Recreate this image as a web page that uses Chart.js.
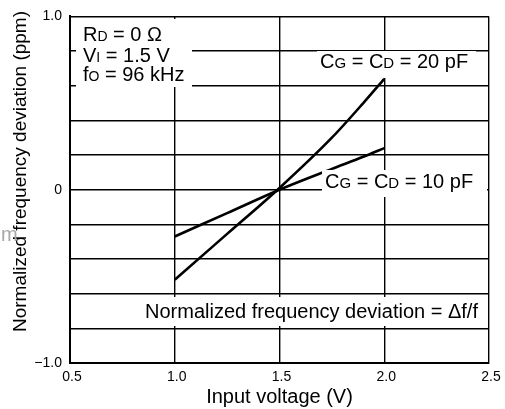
<!DOCTYPE html>
<html>
<head>
<meta charset="utf-8">
<script src="https://cdn.jsdelivr.net/npm/chart.js@4/dist/chart.umd.min.js"></script>
<style>
  html, body { margin: 0; padding: 0; background: #fff; }
  #wrap { width: 505px; height: 409px; }
</style>
</head>
<body>
<div id="wrap"><canvas id="chart" width="505" height="409"></canvas></div>
<script>
// values
const voltages = [1.0, 1.25, 1.5, 1.75, 1.9, 2.0]
const dev_20pf = [-0.52, -0.255, 0.01, 0.30, 0.50, 0.64]
const dev_10pf = [-0.27, -0.135, 0.0, 0.12, 0.19, 0.24]
const x_ticks = [0.5, 1.0, 1.5, 2.0, 2.5]
const y_labelled = [1.0, 0, -1.0]

const FONT = `"Liberation Sans", Arial, sans-serif`

function points(ys) {
    return voltages.map((v, i) => ({ x: v, y: ys[i] }))
}

// draws a run of [text, size] pieces on one baseline
function runs(ctx, x, y, parts) {
    for (const [txt, size] of parts) {
        ctx.font = `${size}px ${FONT}`
        ctx.fillText(txt, x, y)
        x += ctx.measureText(txt).width
    }
}

const notes = {
    id: `notes`,
    afterDatasetsDraw(chart) {
        const ctx = chart.ctx
        ctx.save()
        ctx.fillStyle = `#fff`
        ctx.fillRect(76, 19, 116, 68)
        ctx.fillRect(317, 51, 159, 27)
        ctx.fillRect(322, 170, 165, 27)
        ctx.fillRect(140, 297, 345, 29)

        ctx.fillStyle = `#000`
        ctx.textBaseline = `alphabetic`
        ctx.textAlign = `left`
        runs(ctx, 83, 41, [[`R`, 20], [`D`, 14], [` = 0 Ω`, 20]])
        runs(ctx, 83, 62, [[`V`, 20], [`I`, 14], [` = 1.5 V`, 20]])
        runs(ctx, 83, 81, [[`f`, 20], [`O`, 14], [` = 96 kHz`, 20]])
        runs(ctx, 320, 68, [[`C`, 20], [`G`, 15], [` = C`, 20], [`D`, 15], [` = 20 pF`, 20]])
        runs(ctx, 325, 188, [[`C`, 20], [`G`, 15], [` = C`, 20], [`D`, 15], [` = 10 pF`, 20]])
        runs(ctx, 145, 318, [[`Normalized frequency deviation = Δf/f`, 20]])

        // y title
        ctx.save()
        ctx.translate(21, 171.5)
        ctx.rotate(-Math.PI / 2)
        ctx.textAlign = `center`
        ctx.textBaseline = `middle`
        ctx.font = `19px ${FONT}`
        ctx.fillText(`Normalized frequency deviation (ppm)`, 0, 0)
        ctx.restore()

        // faint stray glyph in the scan
        ctx.fillStyle = `#a8a8a8`
        ctx.font = `20px ${FONT}`
        ctx.fillText(`m`, 1, 241)
        ctx.restore()
    }
}

new Chart(document.getElementById(`chart`), {
    type: `scatter`,
    data: {
        datasets: [{
            label: `CG = CD = 20 pF`,
            data: points(dev_20pf),
            showLine: true,
            borderColor: `#000`,
            borderWidth: 2.6,
            pointRadius: 0,
            cubicInterpolationMode: `monotone`
        }, {
            label: `CG = CD = 10 pF`,
            data: points(dev_10pf),
            showLine: true,
            borderColor: `#000`,
            borderWidth: 2.6,
            pointRadius: 0,
            cubicInterpolationMode: `monotone`
        }]
    },
    options: {
        responsive: false,
        animation: false,
        layout: { padding: { top: 14, right: 16, left: 0, bottom: 0 } },
        plugins: { legend: { display: false }, tooltip: { enabled: false } },
        scales: {
            x: {
                type: `linear`,
                min: 0.5,
                max: 2.5,
                afterBuildTicks: s => { s.ticks = x_ticks.map(v => ({ value: v })) },
                afterFit: s => { s.height = 46 },
                ticks: {
                    color: `#000`,
                    font: { family: FONT, size: 14 },
                    padding: 6,
                    labelOffset: 2,
                    maxRotation: 0,
                    callback: v => v.toFixed(1)
                },
                grid: { color: `#000`, lineWidth: 1.4, drawTicks: false },
                border: { color: `#000`, width: 2 },
                title: {
                    display: true,
                    text: `Input voltage (V)`,
                    color: `#000`,
                    font: { family: FONT, size: 20 },
                    padding: { top: 2, bottom: 0 }
                }
            },
            y: {
                min: -1,
                max: 1,
                afterBuildTicks: s => {
                    const t = []
                    for (let i = -5; i <= 5; i++) t.push({ value: i / 5 })
                    s.ticks = t
                },
                afterFit: s => { s.width = 70 },
                ticks: {
                    color: `#000`,
                    font: { family: FONT, size: 14 },
                    padding: 8,
                    autoSkip: false,
                    callback: v => {
                        const hit = y_labelled.find(l => Math.abs(l - v) < 1e-9)
                        if (hit === undefined) return ``
                        if (hit === 0) return `0`
                        return hit < 0 ? `\u2212${Math.abs(hit).toFixed(1)}` : hit.toFixed(1)
                    }
                },
                grid: { color: `#000`, lineWidth: 1.4, drawTicks: false },
                border: { color: `#000`, width: 2 }
            }
        }
    },
    plugins: [notes]
})
</script>
</body>
</html>
